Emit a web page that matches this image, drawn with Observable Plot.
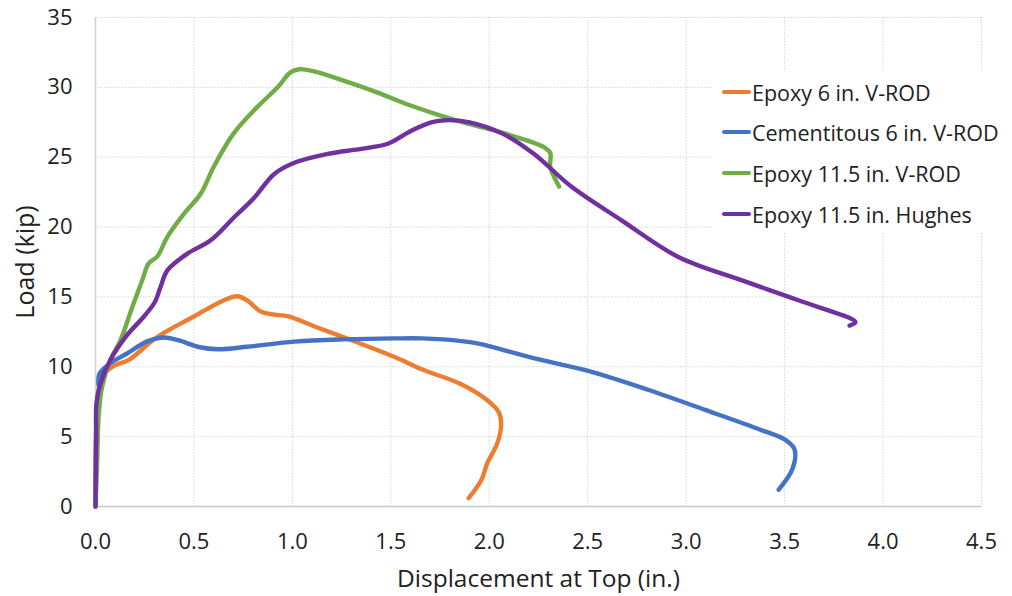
<!DOCTYPE html>
<html>
<head>
<meta charset="utf-8">
<script src="https://cdn.jsdelivr.net/npm/d3@7"></script>
<script src="https://cdn.jsdelivr.net/npm/@observablehq/plot@0.6"></script>
<style>
  body { margin: 0; background: white; }
  #wrap { position: relative; width: 1012px; height: 596px; overflow: hidden; font-family: "Open Sans", Lato, sans-serif; }
  #legend { position: absolute; left: 713px; top: 70px; width: 299px; height: 163px; background: white; }
  .item { position: absolute; left: 9px; height: 26px; display: flex; align-items: center; font-size: 21.5px; color: #222; white-space: nowrap; }
  .sw { width: 29px; height: 4px; border-radius: 2px; margin-right: 1px; }
</style>
</head>
<body>
<div id="wrap"></div>
<script>
// ---- data ----
const seriesNames = ["Epoxy 6 in. V-ROD", "Cementitous 6 in. V-ROD", "Epoxy 11.5 in. V-ROD", "Epoxy 11.5 in. Hughes"];
const seriesColors = ["#ED7D31", "#4472C4", "#70AD47", "#7030A0"];

const epoxy6X = [0, 0.005, 0.03, 0.09, 0.17, 0.31, 0.5, 0.65, 0.72, 0.77, 0.84, 0.9, 0.98, 1.11, 1.3, 1.52, 1.66, 1.85, 1.99, 2.05, 2.06, 2.04, 1.99, 1.96, 1.895];
const epoxy6Y = [0, 6, 9.2, 10.05, 10.5, 12.1, 13.6, 14.75, 15.05, 14.75, 13.95, 13.75, 13.6, 12.9, 11.9, 10.7, 9.8, 8.8, 7.6, 6.7, 5.8, 4.5, 3.1, 1.9, 0.6];

const cement6X = [0.015, 0.02, 0.07, 0.16, 0.26, 0.35, 0.42, 0.53, 0.62, 0.77, 1.01, 1.26, 1.52, 1.66, 1.86, 1.94, 2.23, 2.52, 2.81, 3.1, 3.38, 3.5, 3.55, 3.54, 3.47];
const cement6Y = [8.7, 9.5, 10.2, 10.95, 11.8, 12.1, 11.9, 11.4, 11.26, 11.43, 11.8, 11.96, 12.03, 12.03, 11.84, 11.67, 10.6, 9.64, 8.34, 6.9, 5.48, 4.8, 4.1, 2.7, 1.2];

const epoxy115X = [0, 0.008, 0.017, 0.034, 0.076, 0.127, 0.19, 0.24, 0.27, 0.314, 0.365, 0.45, 0.535, 0.6, 0.7, 0.82, 0.925, 0.99, 1.035, 1.11, 1.26, 1.43, 1.6, 1.84, 2.03, 2.19, 2.28, 2.31, 2.31, 2.355];
const epoxy115Y = [0, 3, 6.7, 8.6, 10.5, 11.9, 14.4, 16.3, 17.4, 17.9, 19.3, 20.96, 22.4, 24.3, 26.67, 28.57, 30, 31.07, 31.3, 31.14, 30.48, 29.64, 28.7, 27.6, 26.9, 26.2, 25.7, 25.3, 24.3, 22.9];

const hughesX = [0, 0.003, 0.005, 0.025, 0.076, 0.16, 0.246, 0.3, 0.33, 0.365, 0.467, 0.585, 0.704, 0.806, 0.908, 1.01, 1.18, 1.35, 1.485, 1.604, 1.705, 1.78, 1.9, 2.07, 2.226, 2.42, 2.67, 2.96, 3.28, 3.57, 3.86, 3.83];
const hughesY = [0, 5, 7.4, 8.8, 10.5, 12.26, 13.6, 14.6, 15.7, 16.9, 18.1, 19.05, 20.7, 22.1, 23.8, 24.6, 25.24, 25.6, 25.96, 26.9, 27.5, 27.65, 27.5, 26.67, 25.24, 22.86, 20.5, 17.86, 16.2, 14.76, 13.2, 12.95];

const xTicks = [0, 0.5, 1.0, 1.5, 2.0, 2.5, 3.0, 3.5, 4.0, 4.5];
const yTicks = [0, 5, 10, 15, 20, 25, 30, 35];
const xLabel = "Displacement at Top (in.)";
const yLabel = "Load (kip)";

// ---- build ----
const allX = [epoxy6X, cement6X, epoxy115X, hughesX];
const allY = [epoxy6Y, cement6Y, epoxy115Y, hughesY];
const rows = [];
allX.forEach((xs, s) => xs.forEach((x, i) => rows.push({series: seriesNames[s], x, y: allY[s][i]})));

const lineMarks = seriesNames.map((name, s) =>
  Plot.line(rows.filter(r => r.series === name), {
    x: "x", y: "y", stroke: seriesColors[s], strokeWidth: 4.4, curve: "catmull-rom"
  })
);

const chart = Plot.plot({
  width: 1012,
  height: 596,
  marginLeft: 95,
  marginRight: 31,
  marginTop: 17,
  marginBottom: 90,
  x: {domain: [0, 4.5]},
  y: {domain: [0, 35]},
  style: {fontFamily: "'Open Sans', Lato, sans-serif", fontSize: "22px", color: "#222", background: "white"},
  marks: [
    Plot.gridX(xTicks.slice(1), {stroke: "#d6d6d6", strokeOpacity: 1, strokeDasharray: "1.5,1.5"}),
    Plot.gridY(yTicks.slice(1), {stroke: "#d6d6d6", strokeOpacity: 1, strokeDasharray: "1.5,1.5"}),
    Plot.ruleX([0], {stroke: "#d0d0d0", strokeWidth: 1.5}),
    Plot.ruleY([0], {stroke: "#c6c6c6", strokeWidth: 1.5}),
    Plot.axisX(xTicks, {tickSize: 0, tickPadding: 27, label: null, tickFormat: d => d.toFixed(1), fontSize: 22}),
    Plot.axisY(yTicks, {tickSize: 0, tickPadding: 23, label: null, fontSize: 22}),
    ...lineMarks,
    Plot.text([xLabel], {text: d => d, frameAnchor: "bottom", dy: 73, textAnchor: "middle", lineAnchor: "middle", fontSize: 24.5, fill: "#222"}),
    Plot.text([yLabel], {text: d => d, frameAnchor: "left", dx: -70, rotate: -90, textAnchor: "middle", lineAnchor: "middle", fontSize: 25, fill: "#222"})
  ]
});

const wrap = document.getElementById("wrap");
wrap.appendChild(chart);

// legend (inside the plot area, top right)
const legend = document.createElement("div");
legend.id = "legend";
const itemTops = [9, 49, 90, 131];
seriesNames.forEach((name, i) => {
  const it = document.createElement("div");
  it.className = "item";
  it.style.top = itemTops[i] + "px";
  const sw = document.createElement("span");
  sw.className = "sw";
  sw.style.background = seriesColors[i];
  const tx = document.createElement("span");
  tx.textContent = name;
  it.appendChild(sw);
  it.appendChild(tx);
  legend.appendChild(it);
});
wrap.appendChild(legend);
</script>
</body>
</html>
